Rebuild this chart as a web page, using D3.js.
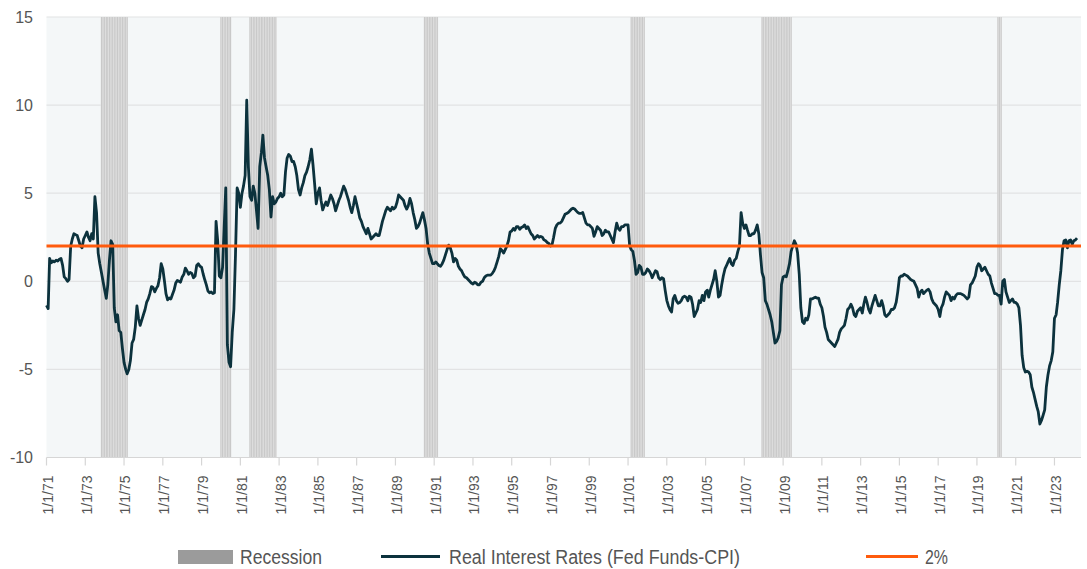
<!DOCTYPE html>
<html>
<head>
<meta charset="utf-8">
<script src="https://cdn.jsdelivr.net/npm/d3@7"></script>
<style>
    body { margin: 0; background: #fff; }
    text { font-family: "Liberation Sans", Arial, sans-serif; fill: #555; }
</style>
</head>
<body>
<div id="vis-container"></div>
<script>
// Real interest rate (fed funds minus CPI), monthly; one row per year from 1971
var startYear = 1971;
var realRates = [
    [-1.36, -1.55, 1.3, 1.05, 1.15, 1.1, 1.2, 1.15, 1.25, 1.3, 0.9, 0.25],        // 1971
    [0.15, 0.0, 0.1, 2.0, 2.4, 2.7, 2.65, 2.6, 2.3, 2.0, 1.9, 2.4],
    [2.6, 2.8, 2.5, 2.3, 2.7, 2.4, 4.8, 3.9, 1.6, 1.0, 0.5, 0.0],
    [-0.5, -0.97, -0.2, 1.2, 2.3, 2.1, -1.5, -2.3, -1.9, -2.8, -2.9, -3.8],
    [-4.6, -5.0, -5.25, -5.0, -4.5, -3.5, -3.3, -2.6, -1.4, -2.1, -2.5, -2.2],    // 1975
    [-1.9, -1.6, -1.2, -1.0, -0.7, -0.3, -0.35, -0.6, -0.4, -0.25, 0.2, 1.0],
    [0.7, 0.0, -0.7, -1.05, -0.95, -1.0, -0.75, -0.5, -0.1, 0.05, 0.0, -0.05],
    [0.25, 0.4, 0.75, 0.6, 0.4, 0.5, 0.45, 0.2, 0.3, 0.9, 1.0, 0.85],
    [0.8, 0.4, 0.1, -0.2, -0.55, -0.65, -0.6, -0.7, -0.65, 3.4, 2.3, 0.3],
    [0.2, 0.8, 3.0, 5.3, -3.6, -4.6, -4.85, -2.9, -1.6, 1.5, 5.3, 5.0],         // 1980
    [4.2, 5.0, 5.4, 6.0, 10.28, 6.5, 4.8, 4.6, 5.4, 5.0, 4.0, 3.0],
    [6.5, 7.3, 8.3, 7.0, 6.5, 6.0, 5.2, 3.65, 4.8, 4.4, 4.5, 4.7],
    [4.8, 5.0, 4.8, 4.9, 6.2, 7.0, 7.2, 7.1, 6.8, 6.8, 6.5, 6.0],
    [5.2, 4.9, 5.3, 5.6, 6.0, 6.2, 6.5, 6.9, 7.5, 6.6, 5.5, 4.4],
    [5.0, 5.3, 4.6, 4.05, 4.3, 4.5, 4.3, 4.6, 4.9, 4.7, 4.4, 4.0],             // 1985
    [4.3, 4.6, 4.8, 5.1, 5.4, 5.2, 4.9, 4.6, 4.2, 3.9, 4.3, 4.8],
    [4.4, 4.0, 3.6, 3.4, 3.1, 2.9, 2.7, 3.0, 2.7, 2.4, 2.5, 2.6],
    [2.7, 2.6, 2.6, 3.0, 3.4, 3.7, 4.0, 4.2, 4.1, 4.0, 4.2, 4.1],
    [4.2, 4.5, 4.9, 4.8, 4.7, 4.6, 4.3, 4.1, 4.3, 4.7, 4.4, 3.9],
    [3.5, 3.0, 3.1, 3.3, 3.6, 3.9, 3.5, 3.0, 2.1, 1.6, 1.3, 1.0],             // 1990
    [1.0, 1.1, 1.0, 0.9, 0.85, 1.0, 1.2, 1.5, 1.8, 2.05, 1.9, 1.6],
    [1.1, 1.3, 1.2, 0.85, 0.7, 0.6, 0.4, 0.25, 0.2, 0.1, 0.0, -0.1],
    [-0.15, -0.05, -0.1, -0.2, -0.2, -0.05, 0.0, 0.2, 0.3, 0.35, 0.35, 0.35],
    [0.45, 0.6, 0.8, 1.1, 1.4, 1.85, 1.75, 1.6, 1.8, 2.0, 2.3, 2.8],
    [2.85, 3.0, 2.9, 3.1, 3.1, 2.95, 3.05, 3.1, 3.2, 3.0, 3.1, 2.9],           // 1995
    [2.7, 2.6, 2.4, 2.5, 2.6, 2.5, 2.55, 2.5, 2.35, 2.3, 2.2, 2.15],
    [2.0, 2.1, 2.5, 3.0, 3.2, 3.3, 3.3, 3.4, 3.6, 3.8, 3.85, 3.9],
    [4.0, 4.1, 4.15, 4.1, 4.0, 3.9, 3.85, 3.85, 3.9, 3.6, 3.3, 3.2],
    [3.2, 3.1, 3.0, 2.55, 2.8, 3.1, 3.0, 2.9, 2.6, 2.7, 2.9, 2.8],
    [2.8, 2.6, 2.4, 2.2, 2.8, 3.3, 3.0, 2.9, 3.1, 3.1, 3.2, 3.2],             // 2000
    [3.2, 2.0, 1.8, 1.7, 1.2, 0.4, 0.5, 0.9, 0.8, 0.4, 0.4, 0.5],
    [0.7, 0.6, 0.45, 0.2, 0.4, 0.6, 0.55, 0.2, 0.1, 0.2, 0.15, -0.5],
    [-1.08, -1.4, -1.6, -1.75, -1.0, -0.8, -1.1, -1.25, -1.2, -1.1, -0.9, -0.85],
    [-0.9, -1.1, -0.85, -0.9, -1.3, -2.0, -1.8, -1.6, -1.1, -1.2, -0.8, -1.1],
    [-0.6, -0.5, -0.9, -0.5, -0.2, 0.1, 0.6, 0.0, -0.9, -0.8, -0.2, 0.3],     // 2005
    [0.7, 0.9, 1.1, 1.3, 1.0, 0.9, 1.2, 1.3, 1.7, 2.0, 3.9, 3.3],
    [3.0, 3.2, 2.9, 2.6, 2.6, 2.7, 2.7, 2.9, 3.2, 2.7, 1.5, 0.5],
    [0.2, -1.1, -1.3, -1.6, -1.9, -2.3, -2.9, -3.5, -3.4, -3.2, -2.8, -0.2],
    [0.25, 0.3, 0.25, 0.6, 1.0, 1.7, 2.0, 2.3, 2.1, 1.6, 0.4, -1.5],
    [-2.3, -2.4, -2.1, -2.2, -1.9, -1.0, -1.0, -0.95, -0.9, -0.95, -0.95, -1.3], // 2010
    [-1.5, -2.0, -2.6, -2.9, -3.3, -3.4, -3.5, -3.6, -3.7, -3.5, -3.3, -2.9],
    [-2.7, -2.6, -2.5, -2.1, -1.6, -1.5, -1.3, -1.5, -1.9, -2.0, -1.7, -1.6],
    [-1.5, -1.8, -1.3, -0.9, -1.2, -1.6, -1.8, -1.4, -1.1, -0.8, -1.1, -1.4],
    [-1.4, -1.1, -1.4, -1.9, -2.0, -1.9, -1.8, -1.6, -1.6, -1.5, -1.2, -0.6],
    [0.2, 0.3, 0.3, 0.4, 0.35, 0.3, 0.2, 0.1, 0.05, 0.0, -0.2, -0.4],         // 2015
    [-0.9, -0.6, -0.5, -0.7, -0.6, -0.5, -0.45, -0.6, -1.0, -1.2, -1.3, -1.4],
    [-1.6, -2.0, -1.5, -1.3, -0.9, -0.6, -0.7, -0.8, -1.1, -0.9, -1.0, -0.8],
    [-0.7, -0.7, -0.7, -0.75, -0.8, -0.9, -1.0, -0.9, -0.2, -0.1, 0.1, 0.3],
    [0.8, 1.0, 0.9, 0.6, 0.7, 0.8, 0.6, 0.4, 0.3, -0.1, -0.4, -0.7],
    [-0.7, -0.8, -0.8, -1.3, 0.0, 0.1, -0.6, -0.9, -1.2, -1.1, -1.0, -1.2],   // 2020
    [-1.2, -1.3, -1.5, -2.5, -4.2, -4.9, -5.15, -5.1, -5.15, -5.3, -6.0, -6.3],
    [-6.7, -7.1, -7.4, -8.1, -7.9, -7.6, -7.3, -6.0, -5.3, -4.8, -4.5, -4.0],
    [-2.1, -1.9, -1.2, -0.2, 0.6, 1.8, 2.3, 2.35, 1.9, 2.3, 2.35, 2.1],
    [2.3, 2.35, 2.45]                                                            // 2024
];

// Recession periods (first and last month)
var recessions = [
    ["1973-11", "1975-03"],
    ["1980-01", "1980-07"],
    ["1981-07", "1982-11"],
    ["1990-07", "1991-03"],
    ["2001-03", "2001-11"],
    ["2007-12", "2009-06"],
    ["2020-02", "2020-04"]
];

var target = 2;
var yTicks = [15, 10, 5, 0, -5, -10];
var xTickLabels = ["1/1/71", "1/1/73", "1/1/75", "1/1/77", "1/1/79", "1/1/81", "1/1/83", "1/1/85",
    "1/1/87", "1/1/89", "1/1/91", "1/1/93", "1/1/95", "1/1/97", "1/1/99", "1/1/01", "1/1/03",
    "1/1/05", "1/1/07", "1/1/09", "1/1/11", "1/1/13", "1/1/15", "1/1/17", "1/1/19", "1/1/21", "1/1/23"];

var legendItems = ["Recession", "Real Interest Rates (Fed Funds-CPI)", "2%"];

// Flatten into {date, value}
var data = [];
realRates.forEach(function (row, i) {
    row.forEach(function (v, m) {
        data.push({ date: new Date(startYear + i, m, 1), value: v });
    });
});

var width = 1087;
var height = 569;
var plot = { left: 46.5, right: 1081, top: 17, bottom: 457.5 };

var svg = d3.select("#vis-container").append("svg")
    .attr("width", width)
    .attr("height", height);

var x = d3.scaleTime()
    .domain([new Date(1971, 0, 1), new Date(2024, 4, 15)])
    .range([plot.left, plot.right]);
var y = d3.scaleLinear()
    .domain([-10, 15])
    .range([plot.bottom, plot.top]);

var parseMonth = d3.timeParse("%Y-%m");
var parseTick = d3.timeParse("%m/%d/%y");

// plot background
svg.append("rect")
    .attr("x", plot.left)
    .attr("y", plot.top)
    .attr("width", plot.right - plot.left)
    .attr("height", plot.bottom - plot.top)
    .attr("fill", "#f4f7f8");

// horizontal grid
svg.append("g").selectAll("line")
    .data(yTicks.filter(function (d) { return d !== -10; }))
    .enter().append("line")
    .attr("x1", plot.left)
    .attr("x2", plot.right)
    .attr("y1", function (d) { return y(d); })
    .attr("y2", function (d) { return y(d); })
    .attr("stroke", "#e2e3e4")
    .attr("stroke-width", 1.2);

// recession bands: a light base plus one thin bar per month
var recG = svg.append("g");
recessions.forEach(function (r) {
    var s = parseMonth(r[0]);
    var e = parseMonth(r[1]);
    var months = d3.timeMonth.range(s, d3.timeMonth.offset(e, 1));
    recG.append("rect")
        .attr("x", x(s) - 0.8)
        .attr("y", plot.top)
        .attr("width", x(e) - x(s) + 1.6)
        .attr("height", plot.bottom - plot.top)
        .attr("fill", "#e4e4e4");
    recG.selectAll(null)
        .data(months)
        .enter().append("rect")
        .attr("x", function (d) { return x(d) - 0.4; })
        .attr("y", plot.top)
        .attr("width", 0.8)
        .attr("height", plot.bottom - plot.top)
        .attr("fill", "#b5b5b5")
        .attr("opacity", 0.7);
});

// x axis line and ticks
svg.append("line")
    .attr("x1", plot.left).attr("x2", plot.right)
    .attr("y1", plot.bottom).attr("y2", plot.bottom)
    .attr("stroke", "#d6d6d6").attr("stroke-width", 1.2);

var xTicks = svg.append("g").selectAll("g")
    .data(xTickLabels)
    .enter().append("g")
    .attr("transform", function (d) { return "translate(" + x(parseTick(d)) + ",0)"; });
xTicks.append("line")
    .attr("y1", plot.bottom).attr("y2", plot.bottom + 8)
    .attr("stroke", "#d6d6d6").attr("stroke-width", 1.2);
xTicks.append("text")
    .attr("transform", "translate(1.5," + (plot.bottom + 18) + ") rotate(-90)")
    .attr("text-anchor", "end")
    .attr("dy", "0.35em")
    .attr("font-size", 14)
    .text(function (d) { return d; });

// y labels
svg.append("g").selectAll("text")
    .data(yTicks)
    .enter().append("text")
    .attr("x", 33)
    .attr("y", function (d) { return y(d); })
    .attr("dy", "0.35em")
    .attr("text-anchor", "end")
    .attr("font-size", 16)
    .text(function (d) { return d; });

// real rate line
var line = d3.line()
    .x(function (d) { return x(d.date); })
    .y(function (d) { return y(d.value); });

svg.append("path")
    .datum(data)
    .attr("fill", "none")
    .attr("stroke", "#0c323d")
    .attr("stroke-width", 2.8)
    .attr("stroke-linejoin", "round")
    .attr("d", line);

// 2% line
svg.append("line")
    .attr("x1", plot.left).attr("x2", plot.right)
    .attr("y1", y(target)).attr("y2", y(target))
    .attr("stroke", "#ff5b0d")
    .attr("stroke-width", 3);

// legend (text squeezed to the narrow face of the original)
var legend = svg.append("g").attr("class", "legend");
legend.append("rect")
    .attr("x", 178).attr("y", 550)
    .attr("width", 55).attr("height", 14)
    .attr("fill", "#9b9b9b");
legend.append("text").attr("x", 240).attr("y", 564).attr("font-size", 20)
    .attr("textLength", 82).attr("lengthAdjust", "spacingAndGlyphs")
    .text(legendItems[0]);

legend.append("line")
    .attr("x1", 381).attr("x2", 440).attr("y1", 556.5).attr("y2", 556.5)
    .attr("stroke", "#0c323d").attr("stroke-width", 3);
legend.append("text").attr("x", 449).attr("y", 564).attr("font-size", 20)
    .attr("textLength", 291).attr("lengthAdjust", "spacingAndGlyphs")
    .text(legendItems[1]);

legend.append("line")
    .attr("x1", 866).attr("x2", 918).attr("y1", 556.5).attr("y2", 556.5)
    .attr("stroke", "#ff5b0d").attr("stroke-width", 3);
legend.append("text").attr("x", 925).attr("y", 564).attr("font-size", 20)
    .attr("textLength", 23).attr("lengthAdjust", "spacingAndGlyphs")
    .text(legendItems[2]);
</script>
</body>
</html>
